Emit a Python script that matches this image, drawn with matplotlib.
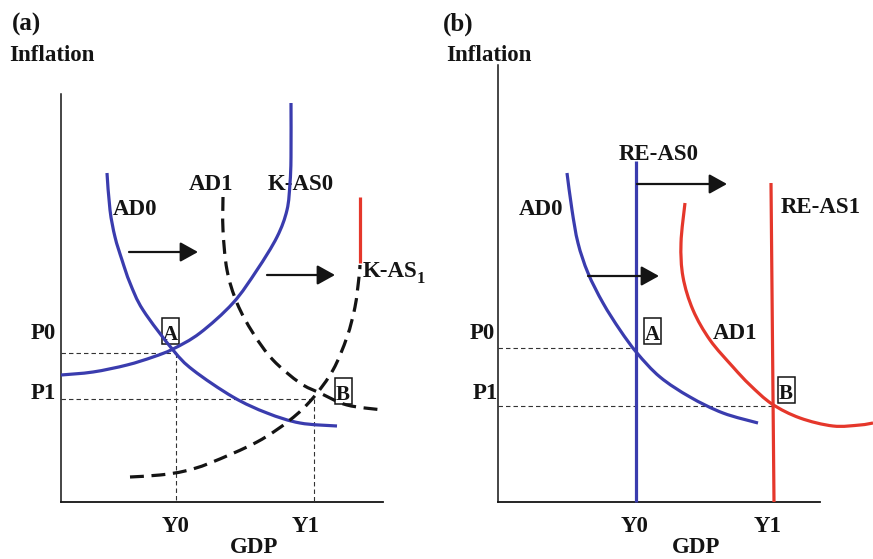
import matplotlib
matplotlib.use('Agg')
import matplotlib.pyplot as plt
from matplotlib.path import Path
from matplotlib.patches import PathPatch, Rectangle

plt.rcParams['lines.scale_dashes'] = False

###############################################################################
# Diagram data (pixel positions, y grows downward)

# panel (a): Keynesian AS with AD shift
a_ad0_x = [107, 110, 115, 122, 130, 143, 173, 193, 233, 267, 300, 337]
a_ad0_y = [173, 210, 237, 260, 283, 310, 350, 370, 397, 413, 423, 426]
a_kas0_x = [61, 93, 127, 153, 173, 200, 233, 257, 277, 287, 290, 291, 291]
a_kas0_y = [375, 372, 365, 357, 349, 333, 303, 270, 237, 210, 183, 157, 103]
a_ad1_x = [223, 223, 227, 237, 253, 273, 300, 320, 347, 383]
a_ad1_y = [197, 230, 270, 303, 333, 360, 383, 393, 405, 410]
a_kas1_x = [130, 160, 185, 210, 257, 290, 313, 333, 347, 355, 359, 360]
a_kas1_y = [477, 475, 471, 463, 442, 420, 398, 370, 337, 307, 277, 265]
a_kas1_top_x = [360, 360]
a_kas1_top_y = [263, 197]
a_origin = (61, 502)
a_axis_top = 94
a_axis_right = 383
a_p = [353, 399]          # P0, P1 levels
a_y = [176, 314]          # Y0, Y1 levels
a_arrows = [((129, 252), (198, 252)), ((267, 275), (335, 275))]

# panel (b): rational expectations AS with AD shift
b_ad0_x = [567, 572, 578, 588, 603, 620, 637, 660, 690, 723, 758]
b_ad0_y = [173, 210, 243, 273, 303, 330, 353, 377, 397, 413, 423]
b_reas0_x = [636, 636]
b_reas0_y = [161, 502]
b_ad1_x = [685, 681, 683, 693, 710, 733, 750, 772, 800, 833, 860, 873]
b_ad1_y = [203, 243, 277, 310, 340, 367, 385, 404, 418, 426, 425, 423]
b_reas1_x = [771, 774]
b_reas1_y = [183, 502]
b_origin = (498, 502)
b_axis_top = 65
b_axis_right = 820
b_p = [348, 406]
b_y = [636, 774]
b_arrows = [((637, 184), (727, 184)), ((588, 276), (659, 276))]

BLUE = '#3a3cae'
RED = '#e5372b'
INK = '#141414'
FONT = 'Liberation Serif'
FS = 16.5

###############################################################################
# Figure: one axes spanning the whole canvas in pixel units
fig = plt.figure(figsize=(8.73, 5.59), dpi=100)
ax = fig.add_axes([0, 0, 1, 1])
ax.set_xlim(0, 873)
ax.set_ylim(559, 0)
ax.axis('off')


def curve(xs, ys, color, dashed=False):
    # smooth curve through the read points (Catmull-Rom as cubic Beziers)
    pts = list(zip(xs, ys))
    verts = [pts[0]]
    codes = [Path.MOVETO]
    n = len(pts)
    for i in range(n - 1):
        p0 = pts[max(i - 1, 0)]
        p1 = pts[i]
        p2 = pts[i + 1]
        p3 = pts[min(i + 2, n - 1)]
        c1 = (p1[0] + (p2[0] - p0[0]) / 6, p1[1] + (p2[1] - p0[1]) / 6)
        c2 = (p2[0] - (p3[0] - p1[0]) / 6, p2[1] - (p3[1] - p1[1]) / 6)
        verts += [c1, c2, p2]
        codes += [Path.CURVE4] * 3
    ls = (0, (10, 5.5)) if dashed else '-'
    ax.add_patch(PathPatch(Path(verts, codes), fill=False, ec=color,
                           lw=2.3, ls=ls, capstyle='butt', zorder=3))


def label(x, y, s, ha='left', size=FS):
    ax.text(x, y, s, ha=ha, va='baseline', fontsize=size, fontfamily=FONT,
            fontweight='bold', color=INK, zorder=1)


def boxed(cx, base, s):
    label(cx, base, s, ha='center', size=15)
    ax.add_patch(Rectangle((cx - 8.5, base - 22), 17, 26, fill=False,
                           ec=INK, lw=1.1, zorder=1))


def axes_frame(origin, top, right):
    ox, oy = origin
    ax.plot([ox, ox], [oy, top], color=INK, lw=1.1, zorder=2)
    ax.plot([ox, right], [oy, oy], color=INK, lw=1.3, zorder=2)


def guides(origin, p_levels, y_levels, with_vertical):
    ox, oy = origin
    for p, y in zip(p_levels, y_levels):
        ax.plot([ox, y], [p, p], color='#333333', lw=0.8,
                dashes=(3.2, 2.2), zorder=2)
        if with_vertical:
            ax.plot([y, y], [p, oy], color='#333333', lw=0.8,
                    dashes=(3.2, 2.2), zorder=2)


def arrows(pairs):
    for start, end in pairs:
        ax.annotate('', xy=end, xytext=start,
                    arrowprops=dict(arrowstyle='-|>,head_length=0.9,head_width=0.5',
                                    mutation_scale=12, lw=1.6, color=INK,
                                    shrinkA=0, shrinkB=0), zorder=4)


# ---- panel (a)
axes_frame(a_origin, a_axis_top, a_axis_right)
guides(a_origin, a_p, a_y, True)
curve(a_ad0_x, a_ad0_y, BLUE)
curve(a_kas0_x, a_kas0_y, BLUE)
curve(a_ad1_x, a_ad1_y, INK, dashed=True)
curve(a_kas1_x, a_kas1_y, INK, dashed=True)
ax.plot(a_kas1_top_x, a_kas1_top_y, color=RED, lw=2.3, zorder=3,
        solid_capstyle='butt')
arrows(a_arrows)

label(12, 31, '(a)', size=18)
label(9, 61, 'Inflation', size=16.5)
label(113, 215, 'AD0')
label(189, 190, 'AD1')
label(268, 190, 'K-AS0')
label(363, 277, 'K-AS')
label(417, 283, '1', size=12)
label(43, 339, 'P0', ha='center')
label(43, 399, 'P1', ha='center')
label(176, 532, 'Y0', ha='center')
label(306, 532, 'Y1', ha='center')
label(254, 553, 'GDP', ha='center')
boxed(170, 340, 'A')
boxed(343, 400, 'B')

# ---- panel (b)
axes_frame(b_origin, b_axis_top, b_axis_right)
guides(b_origin, b_p, b_y, False)
curve(b_ad0_x, b_ad0_y, BLUE)
ax.plot(b_reas0_x, b_reas0_y, color=BLUE, lw=2.3, zorder=3,
        solid_capstyle='butt')
curve(b_ad1_x, b_ad1_y, RED)
ax.plot(b_reas1_x, b_reas1_y, color=RED, lw=2.3, zorder=3,
        solid_capstyle='butt')
arrows(b_arrows)

label(443, 31, '(b)', size=18)
label(446, 61, 'Inflation', size=16.5)
label(519, 215, 'AD0')
label(619, 160, 'RE-AS0')
label(781, 213, 'RE-AS1')
label(713, 339, 'AD1')
label(482, 339, 'P0', ha='center')
label(485, 399, 'P1', ha='center')
label(635, 532, 'Y0', ha='center')
label(768, 532, 'Y1', ha='center')
label(696, 553, 'GDP', ha='center')
boxed(652, 340, 'A')
boxed(786, 399, 'B')

fig.savefig('out.png', dpi=100)
